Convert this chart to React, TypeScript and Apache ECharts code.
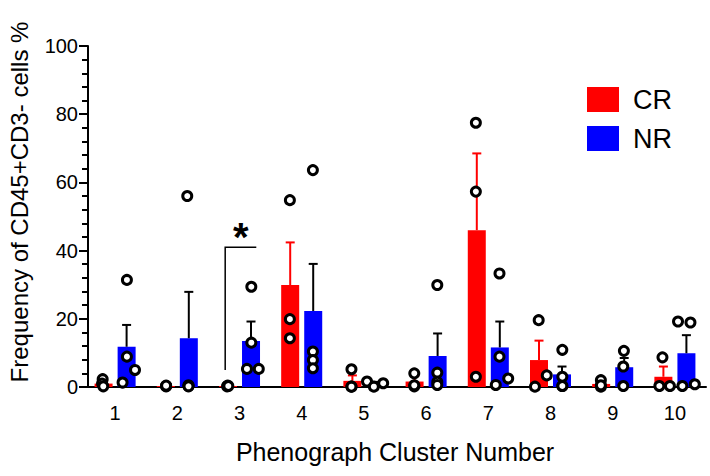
import React, { useEffect, useRef } from "react";
import * as echarts from "echarts";

const categories = ["1", "2", "3", "4", "5", "6", "7", "8", "9", "10"];
const seriesNames = ["CR", "NR"];
const crMean = [1.0, 0.3, 0.3, 29.9, 1.8, 1.6, 46.0, 7.9, 0.9, 3.0];
const nrMean = [11.8, 14.3, 13.5, 22.3, 0.9, 9.1, 11.6, 3.7, 5.8, 9.9];
const crErrTop = [1.8, 0.5, 0.5, 42.4, 3.4, 3.2, 68.5, 13.6, 1.8, 6.0];
const nrErrTop = [18.2, 27.9, 19.2, 36.1, 1.5, 15.7, 19.2, 6.0, 8.5, 15.2];

// individual points per cluster: [offset from cluster centre (in cluster units), value]
const crDots = [
  [[-0.2, 2.3], [-0.21, 1.0], [-0.19, 0.2]],
  [[-0.18, 0.3], [-0.18, 0.2], [-0.18, 0.4]],
  [[-0.19, 0.4], [-0.2, 0.2], [-0.18, 0.3]],
  [[-0.19, 54.8], [-0.19, 19.9], [-0.19, 14.3]],
  [[-0.2, 5.2], [-0.2, 0.1], [-0.2, 0.1]],
  [[-0.19, 4.0], [-0.19, 0.2], [-0.19, 0.5]],
  [[-0.2, 77.5], [-0.2, 57.3], [-0.2, 3.0]],
  [[-0.19, 19.6], [-0.06, 3.4], [-0.25, 0.1]],
  [[-0.19, 2.0], [-0.19, 0.1], [-0.19, 0.5]],
  [[-0.2, 8.7], [-0.25, 0.3], [-0.08, 0.3]],
];
const nrDots = [
  [[0.19, 31.4], [0.19, 8.9], [0.32, 5.0], [0.12, 1.3]],
  [[0.16, 56.0], [0.18, 0.5], [0.18, 0.3], [0.18, 0.2]],
  [[0.19, 29.4], [0.19, 13.0], [0.12, 5.3], [0.31, 5.3]],
  [[0.18, 63.6], [0.18, 10.4], [0.18, 7.9], [0.18, 5.5]],
  [[0.05, 1.6], [0.16, 0.1], [0.31, 1.1]],
  [[0.18, 29.9], [0.18, 4.2], [0.18, 1.5], [0.18, 0.6]],
  [[0.18, 33.3], [0.18, 8.9], [0.32, 2.5], [0.12, 0.6]],
  [[0.19, 10.9], [0.19, 3.0], [0.19, 0.3], [0.19, 0.3]],
  [[0.18, 10.6], [0.17, 6.0], [0.17, 0.3]],
  [[0.05, 19.2], [0.25, 18.9], [0.12, 0.3], [0.32, 0.8]],
];

const yTicks = { min: 0, max: 100, interval: 20 };
const sig = { cluster: 3, x0: -0.23, x1: 0.27, yLow: 5, yHigh: 41, starY: 44.0, label: "*" };

const FONT = "'Liberation Sans', Arial, sans-serif";
const RED = "#ff0000";
const BLUE = "#0000ff";

function errSeries(name: string, mean: number[], top: number[], shift: number, color: string) {
  return {
    name,
    type: "custom",
    xAxisIndex: 0,
    yAxisIndex: 0,
    z: 3,
    data: mean.map((m, i) => [i, m, top[i]]),
    encode: { x: 0, y: [1, 2] },
    renderItem: (params: any, api: any) => {
      const b = api.coord([api.value(0), api.value(1)]);
      const t = api.coord([api.value(0), api.value(2)]);
      const x = b[0] + shift;
      const style = { stroke: color, lineWidth: 2 };
      return {
        type: "group",
        children: [
          { type: "line", shape: { x1: x, y1: b[1], x2: x, y2: t[1] }, style },
          { type: "line", shape: { x1: x - 4.5, y1: t[1], x2: x + 4.5, y2: t[1] }, style },
        ],
      };
    },
  };
}

function dotData(dots: number[][][]) {
  const out: number[][] = [];
  dots.forEach((arr, i) => arr.forEach(([o, v]) => out.push([i + 1 + o, v])));
  return out;
}

export default function App() {
  const ref = useRef<HTMLDivElement>(null);
  useEffect(() => {
    document.body.style.margin = "0";
    const chart = echarts.init(ref.current!, null, { renderer: "svg" });
    const dotStyle = { color: "#ffffff", borderColor: "#000000", borderWidth: 3, opacity: 1 };
    const option: any = {
      animation: false,
      textStyle: { fontFamily: FONT },
      grid: { left: 84, right: 4, top: 46, bottom: 89, containLabel: false },
      legend: {
        data: seriesNames,
        orient: "vertical",
        left: 587,
        top: 86,
        padding: 0,
        itemWidth: 32,
        itemHeight: 25,
        itemGap: 12,
        icon: "rect",
        textStyle: { fontSize: 27, color: "#000", fontFamily: FONT, padding: [0, 0, 0, 9] },
      },
      xAxis: [
        {
          type: "category",
          data: categories,
          boundaryGap: true,
          axisLine: { lineStyle: { color: "#000", width: 2 } },
          axisTick: { alignWithLabel: true, length: 8, lineStyle: { color: "#000", width: 2 } },
          axisLabel: { fontSize: 20, color: "#000", margin: 16, fontFamily: FONT },
          splitLine: { show: false },
          name: "Phenograph Cluster Number",
          nameLocation: "middle",
          nameGap: 52,
          nameTextStyle: { fontSize: 25, color: "#000", fontFamily: FONT },
        },
        { type: "value", min: 0.5, max: 10.5, show: false, splitLine: { show: false } },
      ],
      yAxis: {
        type: "value",
        min: yTicks.min,
        max: yTicks.max,
        interval: yTicks.interval,
        offset: -4,
        axisLine: { show: true, lineStyle: { color: "#000", width: 2 } },
        axisTick: { show: true, length: 9, lineStyle: { color: "#000", width: 2 } },
        minorTick: { show: true, splitNumber: 5, length: 6, lineStyle: { color: "#000", width: 2 } },
        axisLabel: { fontSize: 20, color: "#000", margin: 10, fontFamily: FONT },
        splitLine: { show: false },
      },
      series: [
        {
          name: "CR",
          type: "bar",
          data: crMean,
          barWidth: 18,
          barGap: "28%",
          itemStyle: { color: RED },
          z: 2,
        },
        {
          name: "NR",
          type: "bar",
          data: nrMean,
          barWidth: 18,
          barGap: "28%",
          itemStyle: { color: BLUE },
          z: 2,
        },
        errSeries("CR err", crMean, crErrTop, -11.5, RED),
        errSeries("NR err", nrMean, nrErrTop, 11.5, "#000"),
        {
          name: "CR points",
          type: "scatter",
          xAxisIndex: 1,
          symbol: "circle",
          symbolSize: 9,
          itemStyle: dotStyle,
          data: dotData(crDots),
          z: 5,
        },
        {
          name: "NR points",
          type: "scatter",
          xAxisIndex: 1,
          symbol: "circle",
          symbolSize: 9,
          itemStyle: dotStyle,
          data: dotData(nrDots),
          z: 5,
        },
      ],
      graphic: [
        {
          type: "text",
          x: 19,
          y: 202,
          rotation: Math.PI / 2,
          style: {
            text: "Frequency of CD45+CD3- cells %",
            fontSize: 24,
            fontFamily: FONT,
            fill: "#000",
            align: "center",
            verticalAlign: "middle",
          },
        },
      ],
    };
    chart.setOption(option);
    const p0 = chart.convertToPixel({ seriesIndex: 4 }, [sig.cluster + sig.x0, sig.yLow]) as number[];
    const p1 = chart.convertToPixel({ seriesIndex: 4 }, [sig.cluster + sig.x0, sig.yHigh]) as number[];
    const p2 = chart.convertToPixel({ seriesIndex: 4 }, [sig.cluster + sig.x1, sig.yHigh]) as number[];
    const ps = chart.convertToPixel({ seriesIndex: 4 }, [sig.cluster + (sig.x0 + sig.x1) / 2, sig.starY]) as number[];
    chart.setOption({
      graphic: [
        option.graphic[0],
        {
          type: "polyline",
          shape: { points: [p0, p1, p2] },
          style: { stroke: "#000", lineWidth: 1.5, fill: null },
          z: 10,
        },
        {
          type: "text",
          x: ps[0],
          y: ps[1],
          style: {
            text: sig.label,
            fontSize: 40,
            fontWeight: "bold",
            fontFamily: FONT,
            fill: "#000",
            align: "center",
            verticalAlign: "middle",
          },
          z: 10,
        },
      ],
    });
    return () => chart.dispose();
  }, []);
  return <div ref={ref} style={{ width: 710, height: 476 }} />;
}
